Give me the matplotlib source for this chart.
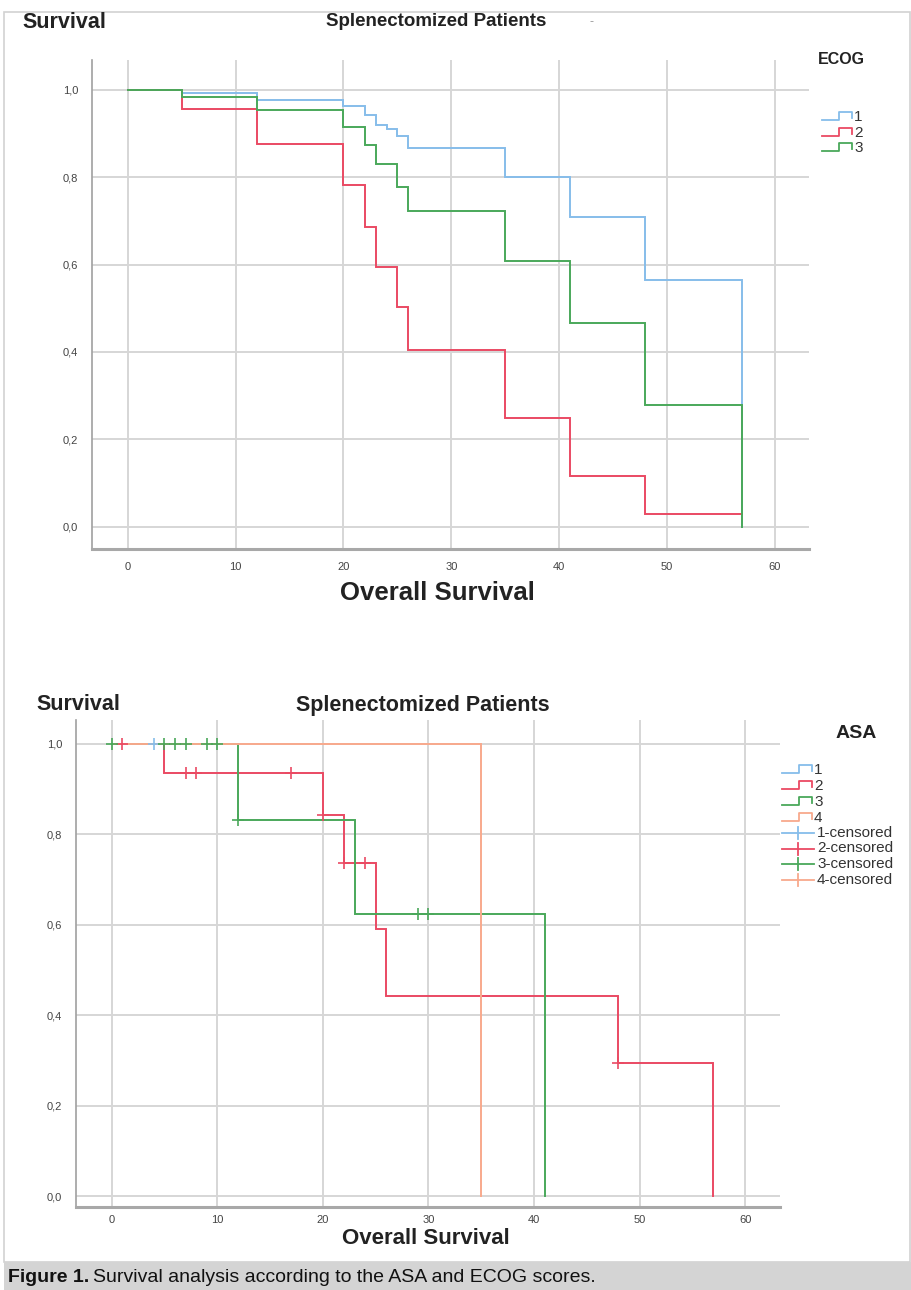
import matplotlib
matplotlib.use("Agg")
import matplotlib.pyplot as plt
from matplotlib.lines import Line2D
from matplotlib.patches import Rectangle
import numpy as np

W, H = 911, 1290

# ---------------- data ----------------
# Top chart: ECOG groups (time of each step, survival after step)
ecog_labels = ["1", "2", "3"]
ecog1_t = [0, 5, 12, 20, 22, 23, 24, 25, 26, 35, 41, 48, 57]
ecog1_s = [1.0, 0.992, 0.977, 0.962, 0.942, 0.920, 0.910, 0.893, 0.866, 0.800, 0.709, 0.564, 0.0]
ecog2_t = [0, 5, 12, 20, 22, 23, 25, 26, 35, 41, 48, 57]
ecog2_s = [1.0, 0.955, 0.875, 0.783, 0.686, 0.595, 0.502, 0.404, 0.248, 0.117, 0.028, 0.028]
ecog3_t = [0, 5, 12, 20, 22, 23, 25, 26, 35, 41, 48, 57]
ecog3_s = [1.0, 0.983, 0.953, 0.915, 0.873, 0.830, 0.777, 0.723, 0.608, 0.466, 0.279, 0.0]

# Bottom chart: ASA groups
asa_labels = ["1", "2", "3", "4"]
asa1_t = [0, 4]
asa1_s = [1.0, 1.0]
asa1_cens = [4]
asa2_t = [0, 5, 20, 22, 25, 26, 48, 57]
asa2_s = [1.0, 0.936, 0.843, 0.737, 0.590, 0.442, 0.295, 0.0]
asa2_cens = [1, 7, 8, 17, 20, 22, 24, 48]
asa3_t = [0, 12, 23, 41]
asa3_s = [1.0, 0.832, 0.624, 0.0]
asa3_cens = [0, 5, 6, 7, 9, 10, 12, 29, 30]
asa4_t = [0, 35]
asa4_s = [1.0, 0.0]
asa4_cens = []

xticks = [0, 10, 20, 30, 40, 50, 60]
yticks = [0.0, 0.2, 0.4, 0.6, 0.8, 1.0]
ytick_labels = ["0,0", "0,2", "0,4", "0,6", "0,8", "1,0"]

C_BLUE = "#86bdea"
C_RED = "#ea4a63"
C_GREEN = "#4aa85a"
C_ORANGE = "#f8a98c"

FONT = "Liberation Sans"

fig = plt.figure(figsize=(W / 100, H / 100), dpi=100)


def fx(px):
    return px / W


def fy(py):
    return 1 - py / H


def axes_px(l, t, r, b):
    return fig.add_axes([fx(l), fy(b), (r - l) / W, (b - t) / H])


def style_axes(ax, xlim, ylim, pad):
    ax.set_xlim(*xlim)
    ax.set_ylim(*ylim)
    ax.set_xticks(xticks)
    ax.set_yticks(yticks)
    ax.set_yticklabels(ytick_labels)
    ax.grid(True, color="#d6d6d6", linewidth=1.4)
    ax.set_axisbelow(True)
    for s in ["top", "right"]:
        ax.spines[s].set_visible(False)
    ax.spines["left"].set_color("#a0a0a0")
    ax.spines["left"].set_linewidth(1.2)
    ax.spines["bottom"].set_color("#a8a8a8")
    ax.spines["bottom"].set_linewidth(2.2)
    ax.tick_params(axis="y", length=0, labelsize=8, labelcolor="#444444", pad=10)
    ax.tick_params(axis="x", length=0, labelsize=8, labelcolor="#444444", pad=pad)
    for lab in ax.get_xticklabels() + ax.get_yticklabels():
        lab.set_fontfamily(FONT)


def km_line(ax, t, s, color):
    ax.step(t, s, where="post", color=color, linewidth=1.4, solid_joinstyle="miter")


def censor(ax, t_steps, s_steps, cens, color):
    if not cens:
        return
    idx = np.searchsorted(t_steps, cens, side="right") - 1
    ys = np.array(s_steps)[idx]
    ax.plot(cens, ys, linestyle="none", marker="+", markersize=8,
            markeredgewidth=1.2, color=color)


def step_handle(x0, yc, color):
    xs = [x0, x0 + 17, x0 + 17, x0 + 30, x0 + 30]
    ys = [yc + 3, yc + 3, yc - 5, yc - 5, yc + 1]
    fig.add_artist(Line2D([fx(v) for v in xs], [fy(v) for v in ys],
                          color=color, linewidth=1.3, transform=fig.transFigure))


def cross_handle(x0, yc, color):
    fig.add_artist(Line2D([fx(x0), fx(x0 + 32)], [fy(yc), fy(yc)],
                          color=color, linewidth=1.3, transform=fig.transFigure))
    fig.add_artist(Line2D([fx(x0 + 16), fx(x0 + 16)], [fy(yc - 6), fy(yc + 6)],
                          color=color, linewidth=1.3, transform=fig.transFigure))


# outer frame
fig.add_artist(Rectangle((fx(4), fy(1262)), fx(906), (1262 - 12) / H,
                         fill=False, edgecolor="#d2d2d2", linewidth=1.2,
                         transform=fig.transFigure))

# ---------------- top chart ----------------
ax1 = axes_px(92, 60, 809, 549)
style_axes(ax1, (-3.34, 63.2), (-0.051, 1.068), pad=9)
km_line(ax1, ecog1_t, ecog1_s, C_BLUE)
km_line(ax1, ecog2_t, ecog2_s, C_RED)
km_line(ax1, ecog3_t, ecog3_s, C_GREEN)
fig.text(fx(437), fy(593), "Overall Survival", fontfamily=FONT, fontweight="bold",
         fontsize=18.5, color="#222222", va="center", ha="center")

fig.text(fx(22), fy(22), "Survival", fontfamily=FONT, fontweight="bold",
         fontsize=15.5, color="#222222", va="center", ha="left")
fig.text(fx(436), fy(22), "Splenectomized Patients", fontfamily=FONT,
         fontweight="bold", fontsize=13.5, color="#222222", va="center", ha="center")
fig.text(fx(592), fy(22), "-", fontfamily=FONT, fontsize=9, color="#999999",
         va="center", ha="center")
fig.text(fx(818), fy(60), "ECOG", fontfamily=FONT, fontweight="bold",
         fontsize=11.5, color="#222222", va="center", ha="left")
for lab, col, yc in zip(ecog_labels, [C_BLUE, C_RED, C_GREEN], [117, 133, 148]):
    step_handle(822, yc, col)
    fig.text(fx(854), fy(yc), lab, fontfamily=FONT, fontsize=11,
             color="#333333", va="center", ha="left")

# ---------------- bottom chart ----------------
ax2 = axes_px(76, 720, 780, 1207)
style_axes(ax2, (-3.38, 63.3), (-0.0243, 1.053), pad=6)
km_line(ax2, asa1_t, asa1_s, C_BLUE)
km_line(ax2, asa2_t, asa2_s, C_RED)
km_line(ax2, asa3_t, asa3_s, C_GREEN)
km_line(ax2, asa4_t, asa4_s, C_ORANGE)
censor(ax2, asa1_t, asa1_s, asa1_cens, C_BLUE)
censor(ax2, asa2_t, asa2_s, asa2_cens, C_RED)
censor(ax2, asa3_t, asa3_s, asa3_cens, C_GREEN)
censor(ax2, asa4_t, asa4_s, asa4_cens, C_ORANGE)
fig.text(fx(426), fy(1238), "Overall Survival", fontfamily=FONT, fontweight="bold",
         fontsize=16, color="#222222", va="center", ha="center")

fig.text(fx(36), fy(705), "Survival", fontfamily=FONT, fontweight="bold",
         fontsize=15.5, color="#222222", va="center", ha="left")
fig.text(fx(423), fy(705), "Splenectomized Patients", fontfamily=FONT,
         fontweight="bold", fontsize=15.5, color="#222222", va="center", ha="center")
fig.text(fx(836), fy(733), "ASA", fontfamily=FONT, fontweight="bold",
         fontsize=14, color="#222222", va="center", ha="left")
cols = [C_BLUE, C_RED, C_GREEN, C_ORANGE]
for i, (lab, col) in enumerate(zip(asa_labels, cols)):
    yc = 770 + 16 * i
    step_handle(782, yc, col)
    fig.text(fx(814), fy(yc), lab, fontfamily=FONT, fontsize=11,
             color="#333333", va="center", ha="left")
for i, (lab, col) in enumerate(zip(asa_labels, cols)):
    yc = 833 + 15.5 * i
    cross_handle(782, yc, col)
    fig.text(fx(817), fy(yc), lab + "-censored", fontfamily=FONT, fontsize=11,
             color="#333333", va="center", ha="left")

# ---------------- caption ----------------
fig.add_artist(Rectangle((fx(4), 0), 1 - fx(4), (1290 - 1262) / H,
                         facecolor="#d4d4d4", edgecolor="none",
                         transform=fig.transFigure))
t1 = fig.text(fx(8), fy(1277), "Figure 1.", fontfamily=FONT, fontweight="bold",
              fontsize=14, color="#111111", va="center", ha="left")
fig.canvas.draw()
bb = t1.get_window_extent()
fig.text(bb.x1 / W + fx(4), fy(1277), "Survival analysis according to the ASA and ECOG scores.",
         fontfamily=FONT, fontsize=14, color="#111111", va="center", ha="left")

fig.savefig("out.png", dpi=100)
